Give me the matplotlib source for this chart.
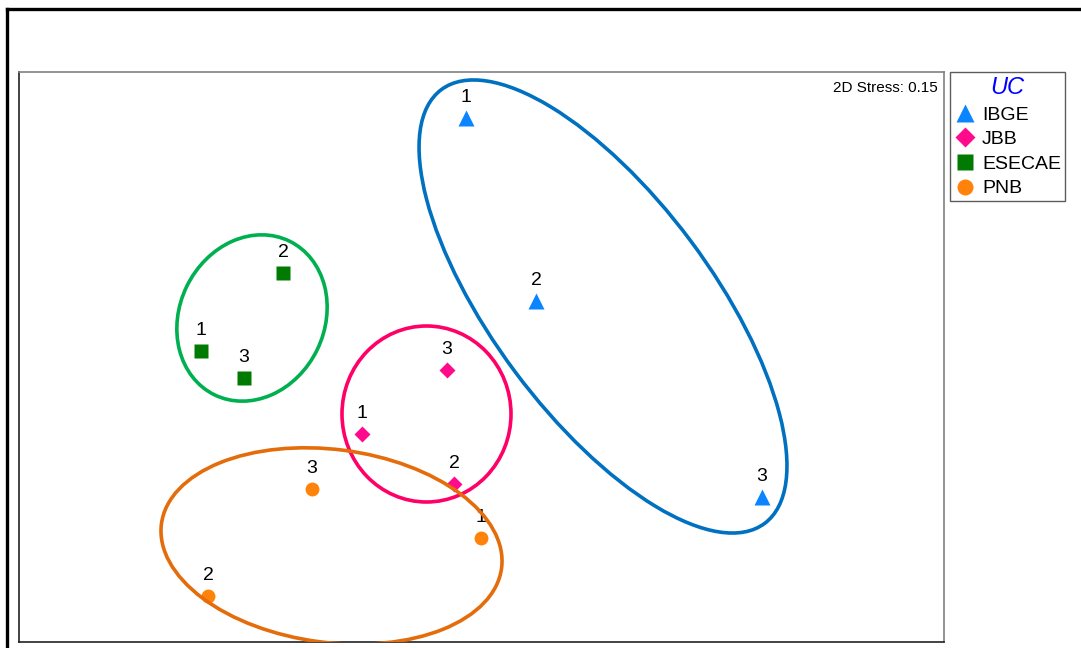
import matplotlib
matplotlib.use('Agg')
import matplotlib.pyplot as plt
from matplotlib.patches import Ellipse
from matplotlib.lines import Line2D

plt.rcParams['font.family'] = ['Liberation Sans', 'DejaVu Sans']

# NMDS scores (arbitrary units)
groups = ['IBGE', 'JBB', 'ESECAE', 'PNB']
ibge_x = [447, 517, 743]
ibge_y = [524, 341, 145]
jbb_x = [343, 435, 428]
jbb_y = [208, 158, 272]
esecae_x = [182, 264, 225]
esecae_y = [291, 369, 264]
pnb_x = [462, 189, 293]
pnb_y = [104, 46, 153]
sample_labels = ['1', '2', '3']

# confidence ellipses: centre x, centre y, width, height, angle
ell_ibge = (584, 335.5, 541, 219, -53.3)
ell_jbb = (407.5, 228, 169, 176, 0)
ell_esecae = (233, 324, 171, 145, 64)
ell_pnb = (312.5, 96, 343, 193, -7.4)

stress = 0.15

fig = plt.figure(figsize=(10.81, 6.48), dpi=100)

# outer frame (cut off at right and bottom)
fig.add_artist(Line2D([7/1081, 7/1081], [0, 1 - 9/648], color='black', lw=2.4))
fig.add_artist(Line2D([7/1081, 1], [1 - 9/648, 1 - 9/648], color='black', lw=2.4))

ax = fig.add_axes([19/1081, 6/648, 925/1081, 570/648])
ax.set_xlim(0, 925)
ax.set_ylim(0, 570)
ax.set_xticks([]), ax.set_yticks([])
for s in ['left', 'bottom']:
    ax.spines[s].set_color('#222222')
for s in ['top', 'right']:
    ax.spines[s].set_color('#808080')
for s in ax.spines.values():
    s.set_linewidth(1.2)

series = [
    (ibge_x, ibge_y, '^', '#0A84FF', 11),
    (jbb_x, jbb_y, 'D', '#FF0A8C', 8.5),
    (esecae_x, esecae_y, 's', '#007A00', 10),
    (pnb_x, pnb_y, 'o', '#FF820A', 10),
]
ellipses = [
    (ell_ibge, '#0070C0'),
    (ell_jbb, '#FF0066'),
    (ell_esecae, '#00B050'),
    (ell_pnb, '#E46C0A'),
]

handles = []
for name, (xs, ys, m, c, ms) in zip(groups, series):
    h, = ax.plot(xs, ys, ls='none', marker=m, color=c, ms=ms, mec='none', zorder=3, label=name)
    handles.append(h)
    for x, y, t in zip(xs, ys, sample_labels):
        ax.annotate(t, (x, y), xytext=(0, 15), textcoords='offset points',
                    ha='center', va='center', fontsize=14, zorder=2)

for (cx, cy, w, h, a), c in ellipses:
    ax.add_patch(Ellipse((cx, cy), w, h, angle=a, fill=False, ec=c, lw=2.6, zorder=4))

ax.text(0.9935, 0.985, '2D Stress: %.2f' % stress, transform=ax.transAxes,
        ha='right', va='top', fontsize=11)

leg = fig.legend(handles=handles, title='UC', loc='upper left',
                 bbox_to_anchor=(950/1081, 1 - 72/648), fontsize=14,
                 frameon=True, fancybox=False, edgecolor='#333333',
                 handletextpad=0.35, handlelength=1.1, borderpad=0.2,
                 labelspacing=0.36, borderaxespad=0, markerscale=1.15)
leg.get_title().set_color('#0000FF')
leg.get_title().set_fontstyle('italic')
leg.get_title().set_fontsize(17)
leg.get_frame().set_linewidth(1.0)

fig.savefig('out.png', dpi=100)
